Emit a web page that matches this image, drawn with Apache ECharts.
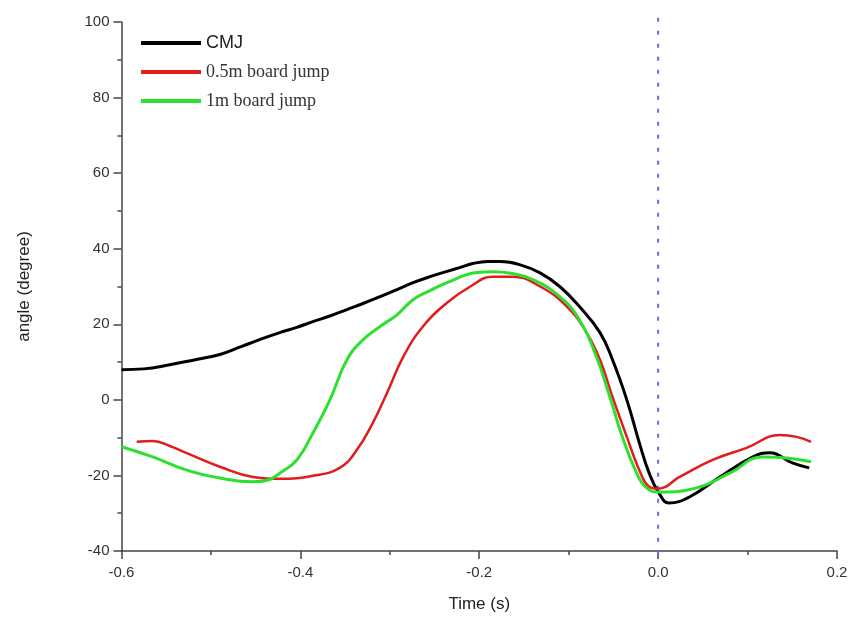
<!DOCTYPE html>
<html>
<head>
<meta charset="utf-8">
<script src="https://cdn.jsdelivr.net/npm/echarts@6/dist/echarts.min.js"></script>
<style>html,body{margin:0;padding:0;background:#fff;}#c{width:856px;height:637px;}</style>
</head>
<body>
<div id="c"></div>
<script>
var seriesNames = ['CMJ', '0.5m board jump', '1m board jump'];
var xTicks = [-0.6, -0.4, -0.2, 0.0, 0.2];
var yTicks = [-40, -20, 0, 20, 40, 60, 80, 100];

var cmjX = [-0.6, -0.575, -0.546, -0.52, -0.49, -0.467, -0.445, -0.423, -0.404, -0.386, -0.367, -0.348, -0.33, -0.311, -0.292, -0.274, -0.255, -0.236, -0.222, -0.207, -0.19, -0.177, -0.155, -0.132, -0.11, -0.088, -0.065, -0.051, -0.035, -0.021, -0.01, 0.001, 0.012, 0.035, 0.069, 0.106, 0.125, 0.15, 0.169];
var cmjY = [8.0, 8.2, 9.3, 10.5, 12, 14, 16, 17.8, 19.2, 20.7, 22.2, 23.9, 25.5, 27.3, 29.2, 31, 32.6, 34, 35, 36.1, 36.6, 36.6, 35.8, 33.6, 30, 24.7, 17.8, 10.6, 0, -11.4, -19.4, -24.7, -27.3, -25.7, -20.4, -15.1, -14, -16.7, -18];

var b05X = [-0.583, -0.565, -0.546, -0.527, -0.49, -0.453, -0.423, -0.386, -0.356, -0.337, -0.319, -0.303, -0.285, -0.263, -0.236, -0.21, -0.185, -0.163, -0.132, -0.102, -0.08, -0.065, -0.051, -0.035, -0.021, -0.01, 0, 0.024, 0.061, 0.099, 0.136, 0.155, 0.171];
var b05Y = [-11.1, -10.9, -12.2, -14.1, -17.7, -20.4, -20.9, -20.1, -18, -13.3, -6.1, 1.9, 11.4, 19.4, 25.7, 30, 32.6, 32.6, 30, 24.7, 17.8, 10.6, 0.8, -9.8, -18.6, -23, -23.5, -20.4, -15.9, -12.7, -9.3, -9.8, -11.1];

var b1X = [-0.6, -0.565, -0.527, -0.49, -0.453, -0.436, -0.423, -0.404, -0.386, -0.367, -0.348, -0.33, -0.311, -0.292, -0.274, -0.255, -0.236, -0.203, -0.185, -0.165, -0.14, -0.11, -0.088, -0.069, -0.054, -0.04, -0.024, -0.013, 0.001, 0.043, 0.08, 0.117, 0.144, 0.171];
var b1Y = [-12.4, -15.1, -18.6, -20.7, -21.7, -21.2, -19.4, -15.9, -8.8, 0, 10.6, 15.9, 19.4, 22.5, 26.5, 28.9, 31, 33.7, 33.9, 33.5, 31.8, 27.3, 21.2, 11.4, 0.8, -9.8, -19.4, -23.3, -24.4, -23.3, -19.4, -15.1, -15.4, -16.4];

var markX = [0, 0];
var markY = [-41, 103.5];

function zip(xs, ys) { return xs.map(function (x, i) { return [x, ys[i]]; }); }

var chart = echarts.init(document.getElementById('c'));
var axisFont = { fontFamily: 'Liberation Sans, Arial, sans-serif', fontSize: 15, color: '#333' };
var axisLineStyle = { color: '#444', width: 1.5 };
chart.setOption({
  animation: false,
  backgroundColor: '#fff',
  grid: { left: 121.5, right: 19, top: 22, bottom: 86 },
  legend: {
    left: 136, top: 29, orient: 'vertical', itemGap: 11,
    itemWidth: 60, itemHeight: 4, icon: 'rect',
    data: seriesNames,
    formatter: function (n) { return n === 'CMJ' ? '{s|' + n + '}' : '{r|' + n + '}'; },
    textStyle: {
      rich: {
        s: { fontFamily: 'Liberation Sans Narrow, Liberation Sans, Arial, sans-serif', fontSize: 18, color: '#222', height: 20 },
        r: { fontFamily: 'Liberation Serif, Times New Roman, serif', fontSize: 18, color: '#333', height: 20 }
      }
    }
  },
  xAxis: {
    type: 'value', min: -0.6, max: 0.2, interval: 0.2,
    name: 'Time (s)', nameLocation: 'middle', nameGap: 45,
    nameTextStyle: { fontFamily: 'Liberation Sans, Arial, sans-serif', fontSize: 17, color: '#222' },
    axisLine: { show: true, onZero: false, lineStyle: axisLineStyle },
    axisTick: { show: true, inside: false, length: 8, lineStyle: axisLineStyle },
    minorTick: { show: true, splitNumber: 2, length: 4, lineStyle: axisLineStyle },
    splitLine: { show: false },
    axisLabel: Object.assign({ margin: 14, formatter: function (v) { return v.toFixed(1); } }, axisFont)
  },
  yAxis: {
    type: 'value', min: -40, max: 100, interval: 20,
    name: 'angle (degree)', nameLocation: 'middle', nameGap: 89,
    nameTextStyle: { fontFamily: 'Liberation Sans, Arial, sans-serif', fontSize: 17, color: '#222' },
    axisLine: { show: true, onZero: false, lineStyle: axisLineStyle },
    axisTick: { show: true, inside: false, length: 8, lineStyle: axisLineStyle },
    minorTick: { show: true, splitNumber: 2, length: 4, lineStyle: axisLineStyle },
    splitLine: { show: false },
    axisLabel: Object.assign({ margin: 12 }, axisFont)
  },
  series: [
    {
      name: 'marker', type: 'line', data: zip(markX, markY), showSymbol: false, clip: false,
      silent: true, lineStyle: { color: '#6a6ad8', type: [4, 9], width: 2 }, z: 1
    },
    {
      name: seriesNames[0], type: 'line', data: zip(cmjX, cmjY), smooth: 0.45, showSymbol: false,
      lineStyle: { color: '#000', width: 3 }, itemStyle: { color: '#000' }, z: 3
    },
    {
      name: seriesNames[1], type: 'line', data: zip(b05X, b05Y), smooth: 0.45, showSymbol: false,
      lineStyle: { color: '#e01c1c', width: 2.5 }, itemStyle: { color: '#e01c1c' }, z: 4
    },
    {
      name: seriesNames[2], type: 'line', data: zip(b1X, b1Y), smooth: 0.45, showSymbol: false,
      lineStyle: { color: '#2ee02e', width: 3 }, itemStyle: { color: '#2ee02e' }, z: 5
    }
  ]
});
</script>
</body>
</html>
